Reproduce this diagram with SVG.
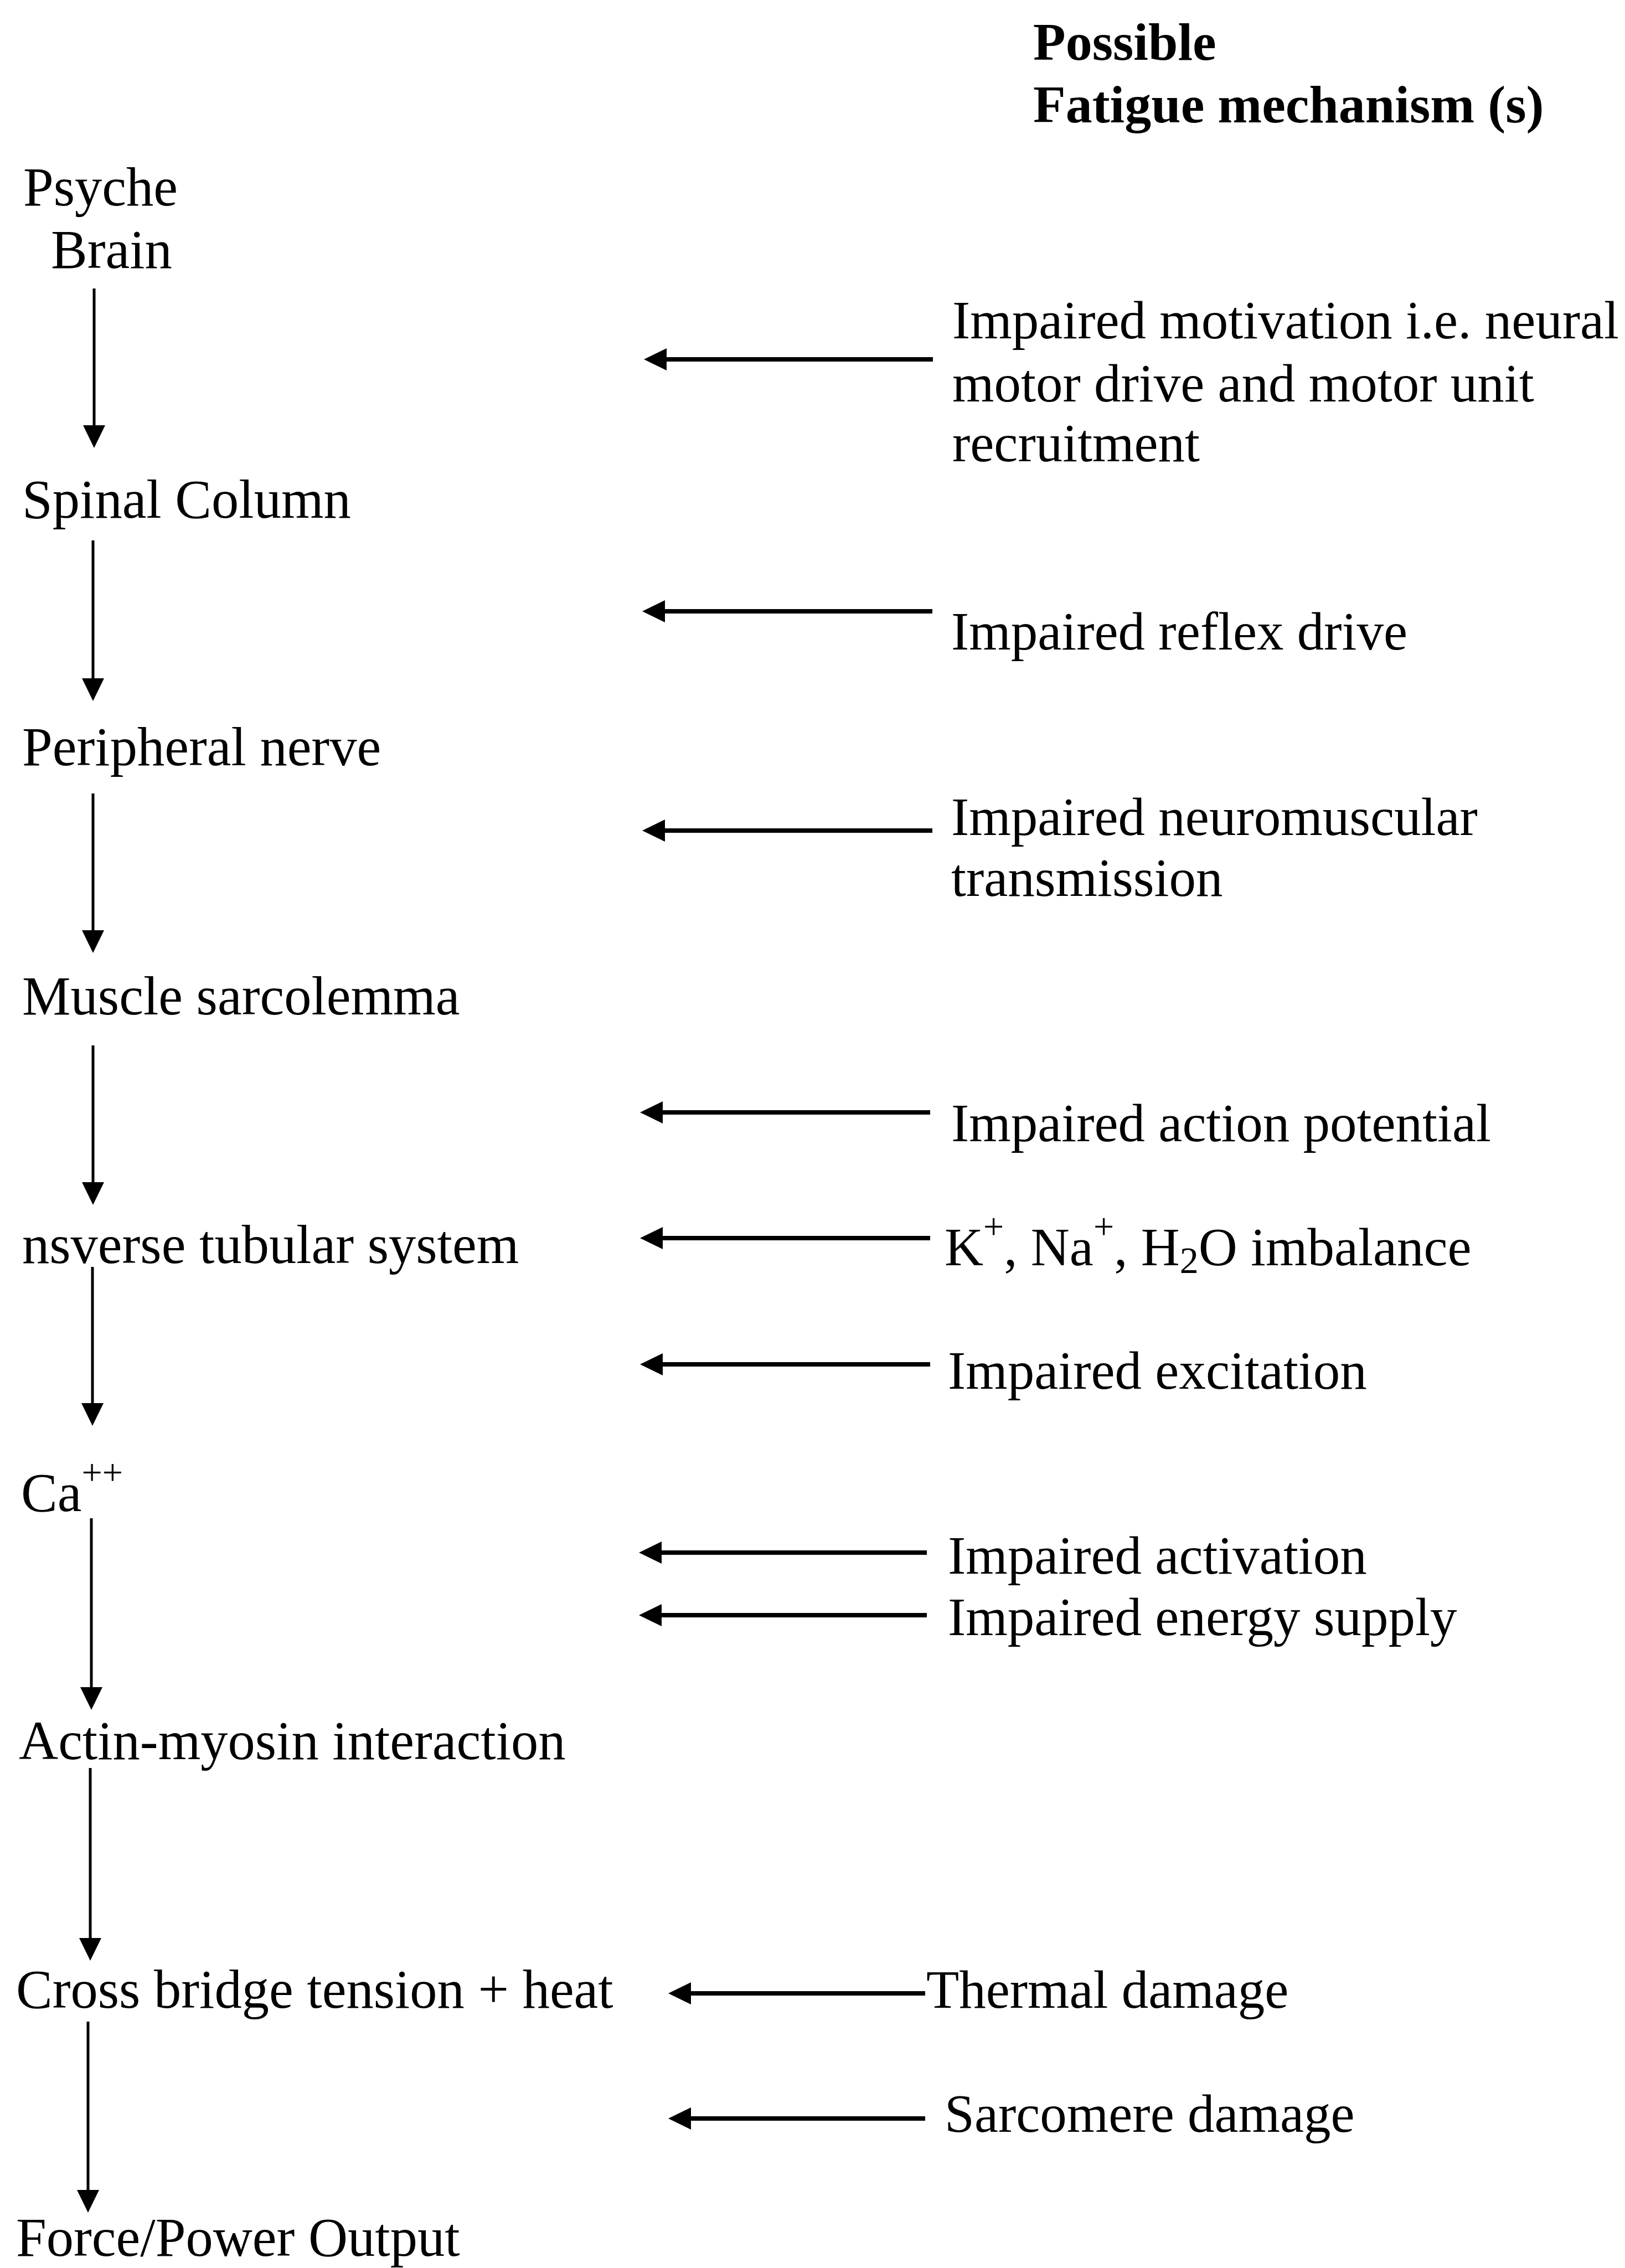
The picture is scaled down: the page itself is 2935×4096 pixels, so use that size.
<svg xmlns="http://www.w3.org/2000/svg" width="2935" height="4096" viewBox="0 0 2935 4096">
<defs>
<style>
text{font-family:"Liberation Serif","Times New Roman",serif;font-size:97px;fill:#000}
.hd{font-weight:bold;font-size:96px}
.l{font-size:98.5px}
.v{stroke:#000;stroke-width:5;fill:none}
.h{stroke:#000;stroke-width:8;fill:none}
</style>
<marker id="ah" viewBox="0 0 42 42" refX="2" refY="21" markerWidth="42" markerHeight="42" markerUnits="userSpaceOnUse" orient="auto">
<path d="M0,1 L41,21 L0,41 z" fill="#000"/>
</marker>
</defs>
<rect width="2935" height="4096" fill="#fff"/>
<g id="header">
<text class="hd" x="1866" y="108">Possible</text>
<text class="hd" x="1866" y="221">Fatigue mechanism (s)</text>
</g>
<g id="n-psyche"><text class="l" x="42" y="371">Psyche</text><text class="l" x="92" y="484">Brain</text></g>
<g id="n-spinal"><text class="l" x="40" y="935">Spinal Column</text></g>
<g id="n-peripheral"><text class="l" x="40" y="1382">Peripheral nerve</text></g>
<g id="n-muscle"><text class="l" x="40" y="1832">Muscle sarcolemma</text></g>
<g id="n-tubular"><text class="l" x="40" y="2281">nsverse tubular system</text></g>
<g id="n-ca"><text class="l" x="38" y="2729">Ca<tspan font-size="66" dy="-48">++</tspan></text></g>
<g id="n-actin"><text class="l" x="34" y="3177">Actin-myosin interaction</text></g>
<g id="n-cross"><text class="l" x="29" y="3626">Cross bridge tension + heat</text></g>
<g id="n-force"><text class="l" x="29" y="4074">Force/Power Output</text></g>
<g id="m-motivation"><text x="1720" y="611">Impaired motivation i.e. neural</text><text x="1720" y="725">motor drive and motor unit</text><text x="1720" y="833">recruitment</text></g>
<g id="m-reflex"><text x="1718" y="1173">Impaired reflex drive</text></g>
<g id="m-neuromuscular"><text x="1718" y="1508">Impaired neuromuscular</text><text x="1718" y="1618">transmission</text></g>
<g id="m-action"><text x="1718" y="2061">Impaired action potential</text></g>
<g id="m-ions"><text x="1706" y="2285">K<tspan font-size="66" dy="-48">+</tspan><tspan dy="48">, Na</tspan><tspan font-size="66" dy="-48">+</tspan><tspan dy="48">, H</tspan><tspan font-size="68" dy="14">2</tspan><tspan dy="-14">O imbalance</tspan></text></g>
<g id="m-excitation"><text x="1712" y="2508">Impaired excitation</text></g>
<g id="m-activation"><text x="1712" y="2842">Impaired activation</text></g>
<g id="m-energy"><text x="1712" y="2953">Impaired energy supply</text></g>
<g id="m-thermal"><text x="1673" y="3626">Thermal damage</text></g>
<g id="m-sarcomere"><text x="1706" y="3850">Sarcomere damage</text></g>
<g id="connectors">
<path class="v" d="M170,521 V770" marker-end="url(#ah)"/>
<path class="v" d="M168,976 V1227" marker-end="url(#ah)"/>
<path class="v" d="M168,1433 V1682" marker-end="url(#ah)"/>
<path class="v" d="M168,1888 V2137" marker-end="url(#ah)"/>
<path class="v" d="M167,2288 V2536" marker-end="url(#ah)"/>
<path class="v" d="M165,2742 V3049" marker-end="url(#ah)"/>
<path class="v" d="M163,3193 V3502" marker-end="url(#ah)"/>
<path class="v" d="M159,3651 V3957" marker-end="url(#ah)"/>
<path class="h" d="M1685,649 H1202" marker-end="url(#ah)"/>
<path class="h" d="M1684,1104 H1199" marker-end="url(#ah)"/>
<path class="h" d="M1684,1500 H1199" marker-end="url(#ah)"/>
<path class="h" d="M1680,2009 H1195" marker-end="url(#ah)"/>
<path class="h" d="M1680,2236 H1195" marker-end="url(#ah)"/>
<path class="h" d="M1680,2464 H1195" marker-end="url(#ah)"/>
<path class="h" d="M1674,2804 H1193" marker-end="url(#ah)"/>
<path class="h" d="M1674,2917 H1193" marker-end="url(#ah)"/>
<path class="h" d="M1671,3600 H1246" marker-end="url(#ah)"/>
<path class="h" d="M1671,3826 H1246" marker-end="url(#ah)"/>
</g>
</svg>
